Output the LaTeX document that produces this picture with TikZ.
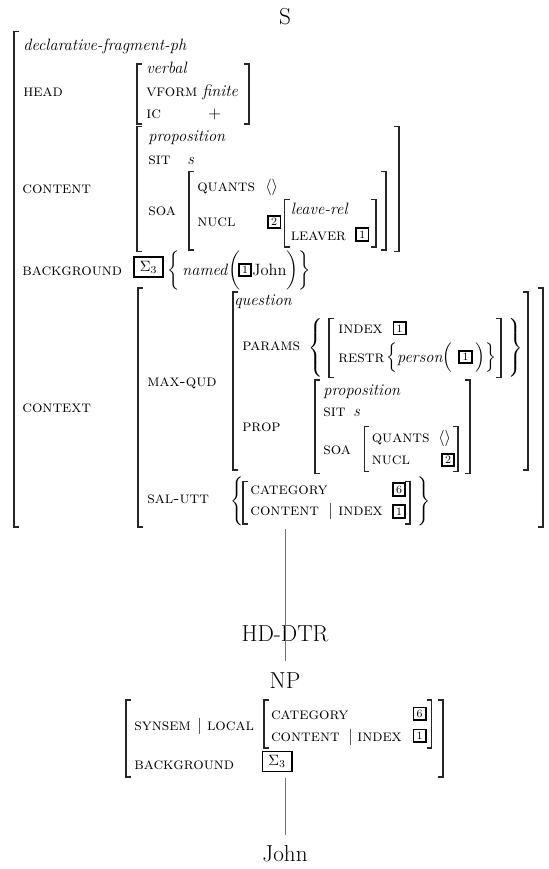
\documentclass[tikz,border=0pt]{standalone}
\usepackage{amsmath}
\setlength{\nulldelimiterspace}{0pt}
\begin{document}
\begin{tikzpicture}[x=0.67pt,y=0.67pt,
  avm/.style={anchor=base west,inner sep=0pt,font=\fontsize{11}{13}\selectfont},
  tree/.style={anchor=base,inner sep=7pt,font=\fontsize{15.5}{18}\selectfont},
  tagbox/.style={draw,line width=1.1pt,inner sep=0pt,minimum size=8.3pt,font=\fontsize{7.5}{8}\selectfont},
  sigbox/.style={draw,line width=1.1pt,inner sep=0pt,minimum width=19.5pt,minimum height=13.5pt,font=\fontsize{10}{12}\selectfont},
  delim/.style={anchor=west,inner sep=0pt,font=\fontsize{11}{13}\selectfont},
  avmbr/.style={line width=0.8pt,black!85},
  branch/.style={line width=0.6pt,black!55}]
\useasboundingbox (0,0) rectangle (548,-869);

% tree labels
\node[tree] (s) at (285,-25) {S};
\node[tree] (hd) at (285,-641.7) {HD-DTR};
\node[tree] (np) at (285,-688) {NP};
\node[tree] (john) at (285,-861.7) {John};

% mother AVM
\node[avm] (dfph) at (23,-50.7) {\textit{declarative-fragment-ph}};
\node[avm] (headl) at (23,-96.7) {\textsc{head}};
\node[avm] (verbal) at (146,-74) {\textit{verbal}};
\node[avm] (vform) at (146,-96.7) {\textsc{vform}};
\node[avm] (finite) at (202,-96.7) {\textit{finite}};
\node[avm] (ic) at (146,-118.3) {\textsc{ic}};
\node[avm] (plus) at (208,-118.3) {$+$};

\node[avm] (contl) at (22,-194) {\textsc{content}};
\node[avm] (propa) at (148,-141.7) {\textit{proposition}};
\node[avm] (sita) at (148,-165) {\textsc{sit}};
\node[avm] (sa) at (187,-165) {\textit{s}};
\node[avm] (soaa) at (148,-215.7) {\textsc{soa}};
\node[avm] (quantsa) at (197,-191.7) {\textsc{quants}};
\node[avm] (emptya) at (265,-191.7) {$\langle\rangle$};
\node[avm] (nucla) at (197,-226.7) {\textsc{nucl}};
\node[tagbox] (twoa) at (274.2,-222) {2};
\node[avm] (leave) at (290.5,-214.5) {\textit{leave-rel}};
\node[avm] (leaver) at (290.5,-240) {\textsc{leaver}};
\node[tagbox] (onea) at (362.3,-234.5) {1};

\node[avm] (bgla) at (22,-275) {\textsc{background}};
\node[sigbox] (siga) at (148.5,-267.2) {$\Sigma_3$};
\node[avm] (named) at (167,-275) {$\bigg\{$\,\textit{named}$\bigg($};
\node[tagbox] (oneb) at (245,-270) {1};
\node[avm] (johna) at (252,-275) {John$\bigg)\bigg\}$};

\node[avm] (ctxl) at (22,-412.7) {\textsc{context}};
\node[avm] (mqudl) at (147,-386.7) {\textsc{max-qud}};
\node[avm] (quest) at (234,-305) {\textit{question}};
\node[avm] (paraml) at (242,-350) {\textsc{params}};
\node[delim] (lbrpar) at (308,-348) {$\left\{\vcenter{\hbox{\rule{0pt}{40pt}}}\right.$};
\node[avm] (indexa) at (338,-333.3) {\textsc{index}};
\node[tagbox] (onec) at (399.6,-328.3) {1};
\node[avm] (restr) at (338,-362) {\textsc{restr}};
\node[avm] (person) at (386,-362) {$\Big\{$\textit{person}$\Big($};
\node[tagbox] (oned) at (465.5,-357) {1};
\node[avm] (persend) at (475,-362) {$\Big)\Big\}$};
\node[delim] (rbrpar) at (508,-348) {$\left.\vcenter{\hbox{\rule{0pt}{40pt}}}\right\}$};
\node[avm] (propb) at (323,-395) {\textit{proposition}};
\node[avm] (propl) at (242,-431.7) {\textsc{prop}};
\node[avm] (sitb) at (323,-416.7) {\textsc{sit}};
\node[avm] (sb) at (353,-416.7) {\textit{s}};
\node[avm] (soab) at (323,-454) {\textsc{soa}};
\node[avm] (quantsb) at (371.5,-442.7) {\textsc{quants}};
\node[avm] (emptyb) at (438,-442.7) {$\langle\rangle$};
\node[avm] (nuclb) at (371.5,-464) {\textsc{nucl}};
\node[tagbox] (twob) at (448,-460) {2};

\node[avm] (saltl) at (147,-503.3) {\textsc{sal-utt}};
\node[delim] (lbrsal) at (230.6,-501.7) {$\left\{\vcenter{\hbox{\rule{0pt}{32pt}}}\right.$};
\node[avm] (cata) at (250,-494) {\textsc{category}};
\node[tagbox] (sixa) at (399,-489.5) {6};
\node[avm] (contb) at (250,-515) {\textsc{content}};
\node[avm] (bara) at (328,-515) {$|$};
\node[avm] (indexb) at (338,-515) {\textsc{index}};
\node[tagbox] (onee) at (399,-511.5) {1};
\node[delim] (rbrsal) at (417,-501.7) {$\left.\vcenter{\hbox{\rule{0pt}{32pt}}}\right\}$};

% daughter AVM
\node[avm] (synsem) at (134,-730.7) {\textsc{synsem}};
\node[avm] (barb) at (197,-730.7) {$|$};
\node[avm] (local) at (206.7,-730.7) {\textsc{local}};
\node[avm] (catb) at (270.7,-719) {\textsc{category}};
\node[tagbox] (sixb) at (419.7,-713.8) {6};
\node[avm] (contc) at (270.7,-741) {\textsc{content}};
\node[avm] (barc) at (348,-741) {$|$};
\node[avm] (indexc) at (357,-741) {\textsc{index}};
\node[tagbox] (onef) at (419.7,-735.8) {1};
\node[avm] (bglb) at (134,-769) {\textsc{background}};
\node[sigbox] (sigb) at (277.2,-761.5) {$\Sigma_3$};

% brackets
\foreach \x/\t/\b in {14/31.7/527, 137/64/124, 137/126.7/251.7, 189/171.7/250,
  284.5/199.3/247, 138/288/527, 233/292/470, 329/318.3/377.5, 315/380/473.3,
  364.4/426.7/471.7, 243/481.7/524, 126/700/777, 264/700/748}
  \draw[avmbr] (\x+5,-\t) -| (\x,-\b) -- (\x+5,-\b);
\foreach \x/\t/\b in {249/64/124, 399/126.7/251.7, 386/171.7/250, 376/199.3/247,
  543/288/527, 528/292/470, 501/318.3/377.5, 470/380/473.3, 458/426.7/471.7,
  410/481.7/524, 443/700/777, 431.7/700/748}
  \draw[avmbr] (\x-5,-\t) -| (\x,-\b) -- (\x-5,-\b);

% branches
\coordinate (sroot) at (285,-529);
\coordinate (nproot) at (285,-778);
\draw[branch] (sroot) -- (np);
\draw[branch] (nproot) -- (john);
\end{tikzpicture}
\end{document}
